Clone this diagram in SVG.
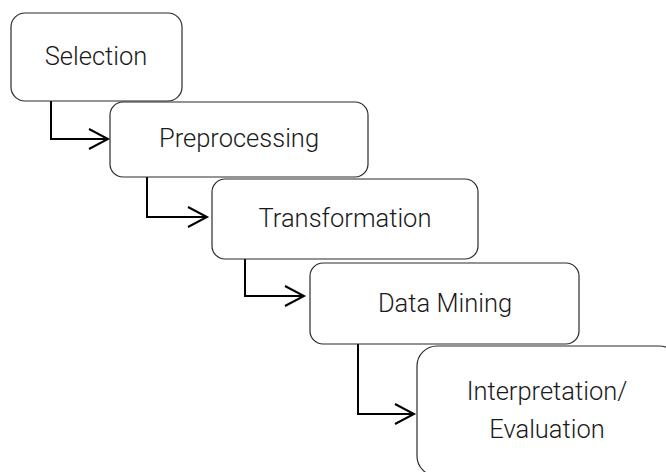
<svg xmlns="http://www.w3.org/2000/svg" width="666" height="472" viewBox="0 0 666 472">
  <style>
    .box { fill: #ffffff; stroke: #2b2b2b; stroke-width: 1.2; }
    .label { font-family: Roboto, "Liberation Sans", sans-serif; font-weight: 300; font-size: 25.5px; fill: #1a1a1a; text-anchor: middle; }
    .link { fill: none; stroke: #000000; stroke-width: 2; marker-end: url(#chevron); }
  </style>
  <defs>
    <marker id="chevron" markerUnits="userSpaceOnUse" markerWidth="24" markerHeight="24" refX="20" refY="11" orient="auto" overflow="visible">
      <path d="M1,1 L20,11 L1,21" fill="none" stroke="#000000" stroke-width="2"/>
    </marker>
  </defs>
  <rect width="666" height="472" fill="#ffffff"/>

  <g id="connectors">
    <path class="link" d="M51,101 V139 H108"/>
    <path class="link" d="M147,177 V217 H207"/>
    <path class="link" d="M245,259 V296 H304"/>
    <path class="link" d="M358,344 V414 H414"/>
  </g>

  <g id="selection">
    <rect class="box" x="11" y="13" width="171" height="88" rx="14"/>
    <text class="label" x="96" y="65">Selection</text>
  </g>

  <g id="preprocessing">
    <rect class="box" x="110" y="102" width="258" height="75" rx="13"/>
    <text class="label" x="239" y="147">Preprocessing</text>
  </g>

  <g id="transformation">
    <rect class="box" x="212" y="179" width="266" height="80" rx="13"/>
    <text class="label" x="345" y="227">Transformation</text>
  </g>

  <g id="data-mining">
    <rect class="box" x="310" y="263" width="269" height="81" rx="13"/>
    <text class="label" x="445" y="312">Data Mining</text>
  </g>

  <g id="interpretation">
    <rect class="box" x="417" y="346" width="262" height="130" rx="20"/>
    <text class="label" x="547" y="400">Interpretation/</text>
    <text class="label" x="547" y="438">Evaluation</text>
  </g>
</svg>
